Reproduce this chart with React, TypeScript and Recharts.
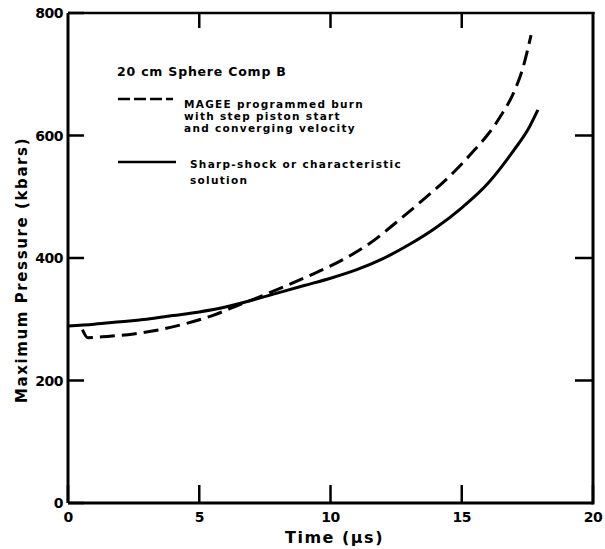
import React from 'react';
import { LineChart, Line, XAxis, YAxis, Legend } from 'recharts';

const timeTicks = [0, 5, 10, 15, 20];
const pressureTicks = [0, 200, 400, 600, 800];
const timeMax = 20;
const pressureMax = 800;

const sharpShockTime = [0, 1, 2, 3, 4, 5, 6, 7, 8, 9, 10, 11, 12, 13, 14, 15, 16, 16.5, 17, 17.5, 17.9];
const sharpShockPressure = [289, 292, 296, 300, 306, 312, 320, 331, 343, 355, 367, 381, 399, 422, 449, 482, 522, 548, 577, 608, 642];

const mageeTime = [0.55, 0.75, 1.5, 2.5, 3.5, 4.5, 5.5, 6.5, 7.5, 8.5, 9.5, 10.5, 11.5, 12.5, 13.5, 14.5, 15.5, 16, 16.5, 17, 17.3, 17.64];
const mageePressure = [283, 270, 272, 276, 283, 293, 306, 323, 340, 358, 377, 398, 424, 458, 494, 532, 577, 602, 633, 672, 706, 764];

const legendTitle = '20 cm Sphere Comp B';
const mageeLabel = ['MAGEE programmed burn', 'with step piston start', 'and converging velocity'];
const sharpLabel = ['Sharp-shock or characteristic', 'solution'];
const xAxisTitle = 'Time (\u03bcs)';
const yAxisTitle = 'Maximum Pressure (kbars)';

const sharpData = sharpShockTime.map((t, i) => ({ t, p: sharpShockPressure[i] }));
const mageeData = mageeTime.map((t, i) => ({ t, p: mageePressure[i] }));

const FONT = '"DejaVu Sans", sans-serif';
const INK = '#000';
const W = 605;
const H = 549;
const Y_AXIS_W = 68;
const X_AXIS_H = 46;
const MARGIN = { top: 13, right: 12, bottom: 0, left: 0 };
const PLOT_TOP = MARGIN.top;
const PLOT_LEFT = MARGIN.left + Y_AXIS_W;
const PLOT_RIGHT = W - MARGIN.right;
const PLOT_BOTTOM = H - MARGIN.bottom - X_AXIS_H;

const LeftTick = (props: any) => {
  const { x, y, payload } = props;
  const v = Number(payload.value);
  return (
    <g>
      <line x1={x} y1={y} x2={x + 16} y2={y} stroke={INK} strokeWidth={2.5} />
      {v > 0 && v < pressureMax ? (
        <line x1={PLOT_RIGHT} y1={y} x2={PLOT_RIGHT - 18} y2={y} stroke={INK} strokeWidth={2.5} />
      ) : null}
      <text x={x - 5} y={y} textAnchor="end" dominantBaseline="central" fontFamily={FONT} fontWeight="bold" fontSize={14} fill={INK} letterSpacing={-0.5}>
        {payload.value}
      </text>
    </g>
  );
};

const BottomTick = (props: any) => {
  const { x, y, payload } = props;
  return (
    <g>
      <line x1={x} y1={y} x2={x} y2={y - 18} stroke={INK} strokeWidth={2.5} />
      <text x={x} y={y + 14} textAnchor="middle" dominantBaseline="central" fontFamily={FONT} fontWeight="bold" fontSize={14} fill={INK} letterSpacing={-0.5}>
        {payload.value}
      </text>
    </g>
  );
};

const FrameOverlay = () => {
  const plotW = PLOT_RIGHT - PLOT_LEFT;
  return (
    <svg width={W} height={H} style={{ position: 'absolute', left: 0, top: 0, pointerEvents: 'none' }}>
      <path d={`M${PLOT_LEFT},${PLOT_TOP}L${PLOT_RIGHT + 1.5},${PLOT_TOP}`} stroke={INK} strokeWidth={2.5} fill="none" />
      <path d={`M${PLOT_RIGHT},${PLOT_TOP - 1}L${PLOT_RIGHT},${PLOT_BOTTOM + 1.5}`} stroke={INK} strokeWidth={3} fill="none" />
      {timeTicks.filter((t) => t > 0 && t < timeMax).map((t) => {
        const x = PLOT_LEFT + (t / timeMax) * plotW;
        return <path key={t} d={`M${x},${PLOT_TOP}L${x},${PLOT_TOP + 15}`} stroke={INK} strokeWidth={2.5} fill="none" />;
      })}
    </svg>
  );
};

const renderLegend = () => (
  <svg width={320} height={140} style={{ display: 'block', overflow: 'visible' }}>
    <g fontFamily={FONT} fontWeight="bold" fill={INK}>
      <text x={7} y={16} dominantBaseline="central" fontSize={12.5} letterSpacing={0.8}>{legendTitle}</text>
      <line x1={8} y1={44} x2={63} y2={44} stroke={INK} strokeWidth={2.5} strokeDasharray="12 4" />
      {mageeLabel.map((s, i) => (
        <text key={s} x={74} y={49 + i * 12} dominantBaseline="central" fontSize={10.5} letterSpacing={1.3}>{s}</text>
      ))}
      <line x1={8} y1={107} x2={66} y2={107} stroke={INK} strokeWidth={2.5} />
      {sharpLabel.map((s, i) => (
        <text key={s} x={80} y={109 + i * 16} dominantBaseline="central" fontSize={10.5} letterSpacing={1.3}>{s}</text>
      ))}
    </g>
  </svg>
);

export default function App() {
  return (
    <div style={{ position: 'absolute', left: 0, top: 0, width: W, height: H, background: '#fff' }}>
      <LineChart width={W} height={H} margin={MARGIN}>
        <XAxis
          dataKey="t"
          type="number"
          domain={[0, timeMax]}
          ticks={timeTicks}
          orientation="bottom"
          height={X_AXIS_H}
          tickSize={0}
          tickMargin={0}
          tickLine={false}
          axisLine={{ stroke: INK, strokeWidth: 3 }}
          tick={<BottomTick />}
          label={(p: any) => {
            const vb = p.viewBox || { x: 68, width: 525 };
            return (
              <text x={vb.x + vb.width / 2 + 4} y={537} textAnchor="middle" dominantBaseline="central" fontFamily={FONT} fontWeight="bold" fontSize={16} letterSpacing={1.5} fill={INK}>
                {xAxisTitle}
              </text>
            );
          }}
        />
        <YAxis
          type="number"
          domain={[0, pressureMax]}
          ticks={pressureTicks}
          orientation="left"
          width={Y_AXIS_W}
          tickSize={0}
          tickMargin={0}
          tickLine={false}
          axisLine={{ stroke: INK, strokeWidth: 3 }}
          tick={<LeftTick />}
          label={(p: any) => {
            const vb = p.viewBox || { y: 13, height: 490 };
            return (
              <text transform={`translate(22, ${vb.y + vb.height / 2 + 12}) rotate(-90)`} textAnchor="middle" dominantBaseline="central" fontFamily={FONT} fontWeight="bold" fontSize={15} letterSpacing={1.6} fill={INK}>
                {yAxisTitle}
              </text>
            );
          }}
        />
        <Legend layout="vertical" align="center" verticalAlign="middle" wrapperStyle={{ left: 110, top: 55, width: 320, height: 140 }} content={renderLegend} />
        <Line
          data={sharpData}
          dataKey="p"
          name="Sharp-shock or characteristic solution"
          type="monotone"
          stroke={INK}
          strokeWidth={3}
          dot={false}
          activeDot={false}
          isAnimationActive={false}
        />
        <Line
          data={mageeData}
          dataKey="p"
          name="MAGEE programmed burn"
          type="monotone"
          stroke={INK}
          strokeWidth={3}
          strokeDasharray="15 7"
          dot={false}
          activeDot={false}
          isAnimationActive={false}
        />
      </LineChart>
      <FrameOverlay />
    </div>
  );
}
